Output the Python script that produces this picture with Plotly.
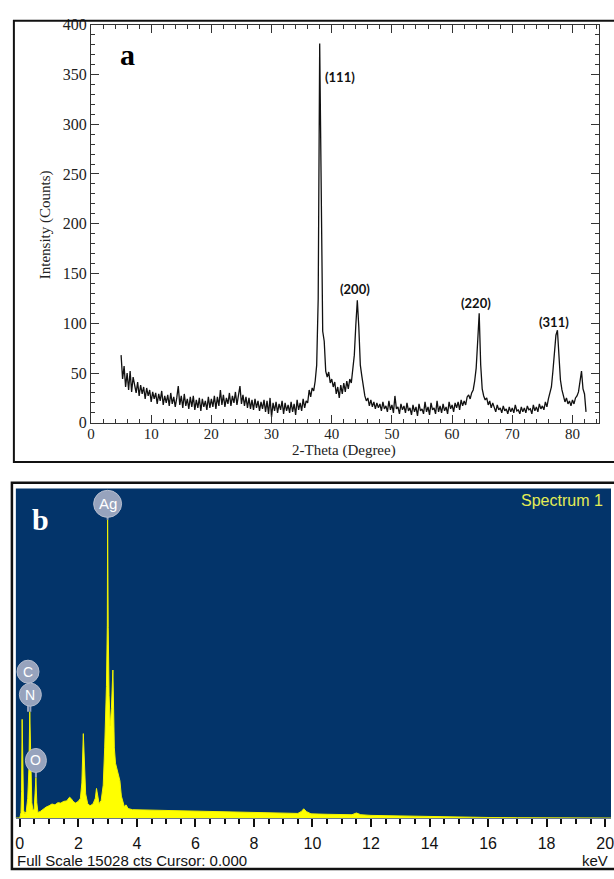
import plotly.graph_objects as go

FIG_W, FIG_H = 614, 879

# ---------------- Panel a: XRD pattern ----------------
xrd_two_theta = [
    5.0, 5.25, 5.5, 5.75, 6.0, 6.25, 6.5, 6.75, 7.0, 7.25, 7.5, 7.75,
    8.0, 8.25, 8.5, 8.75, 9.0, 9.25, 9.5, 9.75, 10.0, 10.25, 10.5, 10.75,
    11.0, 11.25, 11.5, 11.75, 12.0, 12.25, 12.5, 12.75, 13.0, 13.25, 13.5, 13.75,
    14.0, 14.25, 14.5, 14.75, 15.0, 15.25, 15.5, 15.75, 16.0, 16.25, 16.5, 16.75,
    17.0, 17.25, 17.5, 17.75, 18.0, 18.25, 18.5, 18.75, 19.0, 19.25, 19.5, 19.75,
    20.0, 20.25, 20.5, 20.75, 21.0, 21.25, 21.5, 21.75, 22.0, 22.25, 22.5, 22.75,
    23.0, 23.25, 23.5, 23.75, 24.0, 24.25, 24.5, 24.75, 25.0, 25.25, 25.5, 25.75,
    26.0, 26.25, 26.5, 26.75, 27.0, 27.25, 27.5, 27.75, 28.0, 28.25, 28.5, 28.75,
    29.0, 29.25, 29.5, 29.75, 30.0, 30.25, 30.5, 30.75, 31.0, 31.25, 31.5, 31.75,
    32.0, 32.25, 32.5, 32.75, 33.0, 33.25, 33.5, 33.75, 34.0, 34.25, 34.5, 34.75,
    35.0, 35.25, 35.5, 35.75, 36.0, 36.25, 36.5, 36.75, 37.0, 37.25, 37.5, 37.75,
    38.0, 38.25, 38.5, 38.75, 39.0, 39.25, 39.5, 39.75, 40.0, 40.25, 40.5, 40.75,
    41.0, 41.25, 41.5, 41.75, 42.0, 42.25, 42.5, 42.75, 43.0, 43.25, 43.5, 43.75,
    44.0, 44.25, 44.5, 44.75, 45.0, 45.25, 45.5, 45.75, 46.0, 46.25, 46.5, 46.75,
    47.0, 47.25, 47.5, 47.75, 48.0, 48.25, 48.5, 48.75, 49.0, 49.25, 49.5, 49.75,
    50.0, 50.25, 50.5, 50.75, 51.0, 51.25, 51.5, 51.75, 52.0, 52.25, 52.5, 52.75,
    53.0, 53.25, 53.5, 53.75, 54.0, 54.25, 54.5, 54.75, 55.0, 55.25, 55.5, 55.75,
    56.0, 56.25, 56.5, 56.75, 57.0, 57.25, 57.5, 57.75, 58.0, 58.25, 58.5, 58.75,
    59.0, 59.25, 59.5, 59.75, 60.0, 60.25, 60.5, 60.75, 61.0, 61.25, 61.5, 61.75,
    62.0, 62.25, 62.5, 62.75, 63.0, 63.25, 63.5, 63.75, 64.0, 64.25, 64.5, 64.75,
    65.0, 65.25, 65.5, 65.75, 66.0, 66.25, 66.5, 66.75, 67.0, 67.25, 67.5, 67.75,
    68.0, 68.25, 68.5, 68.75, 69.0, 69.25, 69.5, 69.75, 70.0, 70.25, 70.5, 70.75,
    71.0, 71.25, 71.5, 71.75, 72.0, 72.25, 72.5, 72.75, 73.0, 73.25, 73.5, 73.75,
    74.0, 74.25, 74.5, 74.75, 75.0, 75.25, 75.5, 75.75, 76.0, 76.25, 76.5, 76.75,
    77.0, 77.25, 77.5, 77.75, 78.0, 78.25, 78.5, 78.75, 79.0, 79.25, 79.5, 79.75,
    80.0, 80.25, 80.5, 80.75, 81.0, 81.25, 81.5, 81.75, 82.0, 82.25,
]
xrd_counts = [
    68, 44, 57, 36, 50, 33, 52, 31, 46, 38, 30, 41,
    27, 38, 29, 36, 24, 35, 27, 33, 21, 31, 24, 30,
    19, 29, 22, 32, 18, 27, 20, 28, 17, 30, 19, 26,
    16, 25, 37, 18, 27, 15, 29, 17, 24, 14, 26, 16,
    27, 13, 23, 15, 25, 12, 24, 16, 22, 13, 26, 15,
    24, 16, 27, 14, 26, 17, 33, 18, 28, 16, 25, 19,
    30, 17, 27, 20, 31, 18, 26, 37, 19, 28, 17, 26,
    15, 25, 14, 23, 13, 24, 15, 22, 12, 21, 14, 23,
    11, 22, 9, 25, 6, 20, 12, 21, 10, 19, 13, 22,
    9, 20, 12, 18, 10, 21, 11, 19, 8, 23, 13, 20,
    12, 24, 15, 22, 20, 33, 26, 35, 32, 42, 58, 125,
    381, 245, 92, 82, 52, 46, 51, 40, 44, 36, 41, 29,
    36, 25, 38, 29, 40, 31, 42, 34, 44, 40, 58, 68,
    98, 123, 96, 58, 47, 34, 27, 22, 25, 17, 23, 16,
    21, 14, 20, 15, 19, 12, 21, 14, 17, 11, 22, 13,
    18, 10, 27, 14, 16, 9, 19, 13, 17, 10, 20, 12,
    15, 8, 18, 11, 16, 7, 19, 12, 14, 9, 21, 11,
    16, 8, 20, 13, 15, 9, 22, 11, 17, 10, 19, 12,
    16, 9, 21, 14, 18, 11, 20, 15, 21, 13, 23, 17,
    22, 18, 26, 28, 24, 30, 33, 42, 55, 82, 110, 58,
    34, 27, 23, 25, 18, 22, 15, 20, 16, 11, 18, 13,
    15, 10, 17, 12, 14, 9, 16, 11, 15, 10, 18, 12,
    13, 9, 16, 11, 15, 10, 17, 13, 14, 9, 18, 12,
    16, 11, 19, 14, 17, 13, 21, 16, 24, 29, 36, 52,
    70, 88, 93, 63, 43, 33, 27, 21, 25, 19, 22, 17,
    23, 19, 25, 27, 31, 40, 52, 34, 29, 11,
]
xrd_peak_labels = ["(111)", "(200)", "(220)", "(311)"]
xrd_peak_label_theta = [41.4, 43.8, 63.9, 77.0]
xrd_peak_label_counts = [347, 134, 120, 101]
xrd_x_ticks = [0, 10, 20, 30, 40, 50, 60, 70, 80]
xrd_y_ticks = [0, 50, 100, 150, 200, 250, 300, 350, 400]

# ---------------- Panel b: EDS spectrum ----------------
eds_kev = [
    -0.135, 0.0, 0.04, 0.06, 0.08, 0.10, 0.13, 0.17, 0.22, 0.27, 0.31, 0.34,
    0.37, 0.41, 0.45, 0.49, 0.52, 0.55, 0.58, 0.62, 0.7, 0.8, 0.9, 1.0,
    1.1, 1.2, 1.3, 1.4, 1.5, 1.6, 1.7, 1.76, 1.82, 1.9, 2.0, 2.07,
    2.12, 2.17, 2.21, 2.25, 2.32, 2.4, 2.5, 2.58, 2.62, 2.66, 2.71, 2.78,
    2.85, 2.9, 2.96, 2.99, 3.0, 3.02, 3.05, 3.09, 3.13, 3.18, 3.2, 3.23,
    3.27, 3.32, 3.37, 3.42, 3.47, 3.52, 3.57, 3.63, 3.7, 3.85, 4.2, 5.0,
    6.0, 7.0, 8.0, 9.0, 9.5, 9.62, 9.7, 9.8, 9.95, 10.5, 11.0, 11.35,
    11.5, 11.65, 12.0, 13.0, 14.0, 15.0, 16.0, 17.0, 18.0, 19.0, 20.2,
]
eds_counts = [
    0, 0, 250, 1200, 4500, 1800, 350, 200, 300, 900, 2200, 4850,
    2600, 700, 350, 400, 1100, 1850, 700, 250, 300, 420, 500, 560,
    640, 600, 700, 680, 760, 780, 950, 880, 760, 680, 760, 900,
    1600, 3850, 2500, 1100, 650, 560, 640, 900, 1350, 1000, 650, 800,
    1500, 3200, 6000, 8800, 13600, 8700, 5600, 4200, 5000, 6750, 5200, 3200,
    2500, 2200, 2050, 1700, 1000, 800, 520, 600, 430, 380, 370, 340,
    310, 280, 250, 220, 210, 300, 420, 290, 190, 170, 150, 150,
    230, 150, 120, 90, 60, 40, 25, 15, 10, 5, 0,
]
eds_full_scale = 15028
eds_elements = ["C", "N", "O", "Ag"]
eds_element_kev = [0.28, 0.36, 0.55, 3.0]
eds_element_peak = [4850, 4850, 1850, 13600]
eds_x_ticks = [0, 2, 4, 6, 8, 10, 12, 14, 16, 18, 20]


def fx(p):
    return p / FIG_W


def fy(p):
    return 1 - p / FIG_H


SERIF = "Liberation Serif, Times New Roman, serif"
SANS = "Liberation Sans, Arial, sans-serif"
AXC = "#333333"

fig = go.Figure()
fig.add_trace(go.Scatter(
    x=xrd_two_theta, y=xrd_counts, mode="lines",
    line=dict(color="#111111", width=1.3),
    xaxis="x", yaxis="y", showlegend=False, hoverinfo="skip",
))
fig.add_trace(go.Scatter(
    x=eds_kev, y=eds_counts, mode="lines", fill="tozeroy",
    fillcolor="#ffff00", line=dict(color="#f2f200", width=1),
    xaxis="x2", yaxis="y2", showlegend=False, hoverinfo="skip",
))

common_xrd = dict(
    showgrid=False, zeroline=False, showline=True, linecolor=AXC, linewidth=1,
    mirror="ticks", ticks="inside", ticklen=8, tickwidth=1, tickcolor=AXC,
)
fig.update_layout(
    width=FIG_W, height=FIG_H, autosize=False,
    margin=dict(l=0, r=0, t=0, b=0),
    paper_bgcolor="white", plot_bgcolor="white",
    xaxis=dict(
        domain=[fx(88), fx(602)], range=[0, 84.43], anchor="y",
        tickmode="array", tickvals=xrd_x_ticks,
        tickfont=dict(family=SERIF, size=15, color="#222222"),
        minor=dict(dtick=2, tick0=0, ticklen=4, ticks="inside", tickcolor=AXC),
        **common_xrd,
    ),
    yaxis=dict(
        domain=[fy(423), fy(17)], range=[0, 400], anchor="x",
        tickmode="array", tickvals=xrd_y_ticks,
        tickfont=dict(family=SERIF, size=16, color="#222222"),
        minor=dict(dtick=10, tick0=0, ticklen=4, ticks="inside", tickcolor=AXC),
        **common_xrd,
    ),
    xaxis2=dict(
        domain=[fx(12), fx(614)], range=[-0.135, 20.2], anchor="y2",
        showgrid=False, zeroline=False, showline=True, linecolor="#6b7a8c", linewidth=1,
        ticks="outside", ticklen=8, tickwidth=1.5, tickcolor="#111111",
        tickmode="array", tickvals=eds_x_ticks, ticklabelstandoff=3,
        ticklabeloverflow="allow",
        minor=dict(dtick=0.5, tick0=0, ticklen=5, ticks="outside", tickcolor="#111111", tickwidth=1.5),
        tickfont=dict(family=SANS, size=16, color="#111111"),
    ),
    yaxis2=dict(
        domain=[fy(826), fy(490)], range=[0, eds_full_scale], anchor="x2",
        showgrid=False, zeroline=False, showline=False, showticklabels=False, ticks="",
    ),
)
# pull the 2-Theta tick labels a little closer to the axis
try:
    fig.layout.xaxis.ticklabelstandoff = -3
except ValueError:
    pass

shapes = []
# blue background of EDS panel
shapes.append(dict(type="rect", xref="x2 domain", yref="y2 domain", x0=0, x1=1, y0=0, y1=1,
                   fillcolor="#03346a", line=dict(width=0), layer="below"))
# outer frames
shapes.append(dict(type="rect", xref="paper", yref="paper", x0=fx(10), x1=1.01, y0=fy(463), y1=fy(13),
                   line=dict(color="#111111", width=2), fillcolor="rgba(0,0,0,0)"))
shapes.append(dict(type="rect", xref="paper", yref="paper", x0=fx(8), x1=1.01, y0=fy(878), y1=fy(484),
                   line=dict(color="#111111", width=2.5), fillcolor="rgba(0,0,0,0)"))

annotations = []


def paper_text(x, y, text, font, xanchor="center", yanchor="middle", **kw):
    annotations.append(dict(x=fx(x), y=fy(y), xref="paper", yref="paper", text=text,
                            xanchor=xanchor, yanchor=yanchor, showarrow=False, font=font, **kw))


# XRD peak labels
for lab, tx, ty in zip(xrd_peak_labels, xrd_peak_label_theta, xrd_peak_label_counts):
    annotations.append(dict(x=tx, y=ty, xref="x", yref="y", text="<b>%s</b>" % lab, showarrow=False,
                            xanchor="center", yanchor="middle",
                            font=dict(family="Lato, Open Sans, sans-serif", size=13, color="#111111")))
# axis titles
paper_text(42, 221, "Intensity (Counts)", dict(family=SERIF, size=15, color="#222222"), textangle=-90)
paper_text(344, 451, "2-Theta (Degree)", dict(family=SERIF, size=15, color="#222222"))
# panel letters
paper_text(125, 47, "<b>a</b>", dict(family=SERIF, size=30, color="#000000"))
paper_text(37, 522, "<b>b</b>", dict(family=SERIF, size=30, color="#ffffff"))
# EDS texts
paper_text(608, 502, "Spectrum 1", dict(family=SANS, size=16, color="#e4ec55"), xanchor="right")
paper_text(11, 869, "Full Scale %d cts Cursor: 0.000" % eds_full_scale,
           dict(family=SANS, size=15, color="#111111"), xanchor="left")
paper_text(613, 869, "keV", dict(family=SANS, size=15, color="#111111"), xanchor="right")

# element marker bubbles (style: pixel offsets above the labelled peak)
bubble_lift = {"C": 40, "N": 17, "O": 17, "Ag": 16}
bubble_rx = {"C": 11, "N": 11, "O": 10.5, "Ag": 14}
bubble_ry = {"C": 11.5, "N": 11.5, "O": 12, "Ag": 13.5}
BUB = "#97a3bd"
for el, kev, pk in zip(eds_elements, eds_element_kev, eds_element_peak):
    lift, rx, ry = bubble_lift[el], bubble_rx[el], bubble_ry[el]
    shapes.append(dict(type="line", xref="x2", yref="y2", xsizemode="pixel", ysizemode="pixel",
                       xanchor=kev, yanchor=pk, x0=0, x1=0, y0=0, y1=lift,
                       line=dict(color=BUB, width=2)))
    shapes.append(dict(type="circle", xref="x2", yref="y2", xsizemode="pixel", ysizemode="pixel",
                       xanchor=kev, yanchor=pk, x0=-rx, x1=rx, y0=lift - ry, y1=lift + ry,
                       fillcolor=BUB, line=dict(color="#b4bccd", width=1)))
    annotations.append(dict(x=kev, y=pk, xref="x2", yref="y2", yshift=lift, text=el, showarrow=False,
                            xanchor="center", yanchor="middle",
                            font=dict(family=SANS, size=15 if el == "Ag" else 14, color="#ffffff")))

fig.update_layout(shapes=shapes, annotations=annotations)
fig.write_html(
    "out.html",
    config={"displayModeBar": False},
    post_script="document.body.style.margin='0';document.documentElement.style.overflow='hidden';",
)
